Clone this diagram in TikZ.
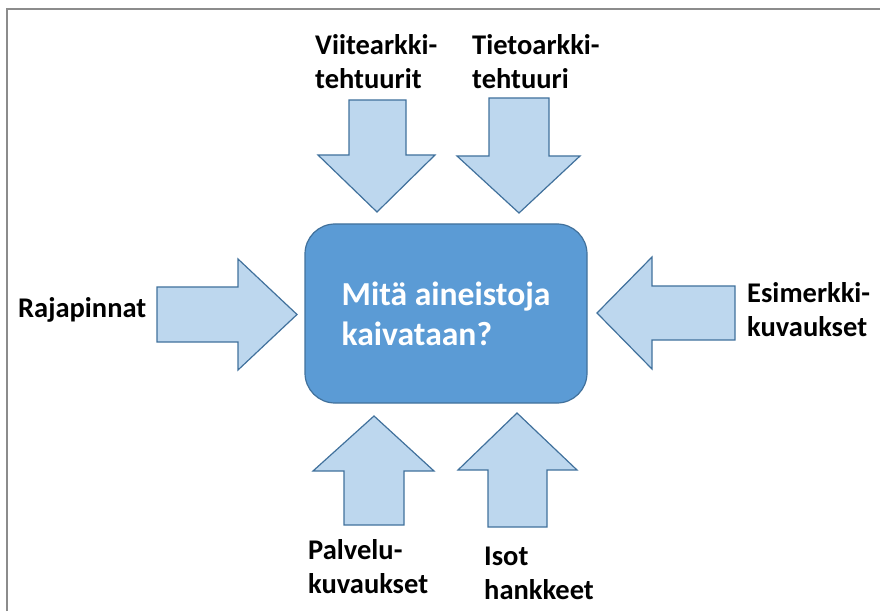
\documentclass[tikz,border=0pt]{standalone}
\usepackage{fontspec}
\setmainfont{Carlito}
\usepackage{tikz}

\definecolor{boxblue}{HTML}{5B9BD5}
\definecolor{boxedge}{HTML}{41719C}
\definecolor{arrowfill}{HTML}{BDD7EE}
\definecolor{framegray}{HTML}{8C8C8C}

\tikzset{
	inflow/.style={draw=boxedge, fill=arrowfill, line width=1.2pt, line join=miter},
	lbl/.style={font=\fontsize{28.5}{34}\selectfont\bfseries, align=left, inner sep=0pt, anchor=base west},
}

\begin{document}
\begin{tikzpicture}[x=1pt, y=1pt]
	
	\useasboundingbox (0,0) rectangle (880,611);
	\draw [framegray, line width=2.2pt] (7,0) -- (7,602) -- (880,602);
	
	\node [draw=boxedge, fill=boxblue, line width=1.2pt, rounded corners=30pt, minimum width=282pt, minimum height=179pt, text=white, align=left, font=\fontsize{33.6}{40}\selectfont\bfseries] (kysymys) at (446,297.5) {Mitä aineistoja\\kaivataan?};
	
	\draw [inflow] (157,269) -- (157,324) -- (238,324) -- (238,352) -- (297,296.5) -- (238,241) -- (238,269) -- cycle;
	\draw [inflow] (735,271) -- (735,325) -- (652,325) -- (652,354) -- (597,298) -- (652,242) -- (652,271) -- cycle;
	\draw [inflow] (349,511) -- (406,511) -- (406,456) -- (435,456) -- (377,399) -- (318,456) -- (349,456) -- cycle;
	\draw [inflow] (489,513) -- (549,513) -- (549,455) -- (580,455) -- (519,398) -- (457,455) -- (489,455) -- cycle;
	\draw [inflow] (344,86) -- (404,86) -- (404,140) -- (434,140) -- (374,195) -- (313,140) -- (344,140) -- cycle;
	\draw [inflow] (488,84) -- (547,84) -- (547,141) -- (577,141) -- (517,198) -- (458,141) -- (488,141) -- cycle;
	
	\node [lbl] (viite) at (315,522) {Viitearkki-\\tehtuurit};
	\node [lbl] (tieto) at (472,522) {Tietoarkki-\\tehtuuri};
	\node [lbl] (raja) at (18,293) {Rajapinnat};
	\node [lbl] (esim) at (747,274) {Esimerkki-\\kuvaukset};
	\node [lbl] (palvelu) at (308,18) {Palvelu-\\kuvaukset};
	\node [lbl] (isot) at (484,12) {Isot\\hankkeet};
	
\end{tikzpicture}
\end{document}
